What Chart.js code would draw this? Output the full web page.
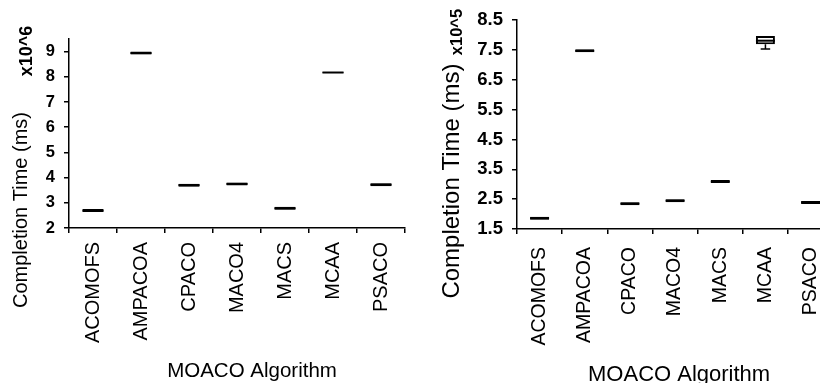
<!DOCTYPE html>
<html>
<head>
<meta charset="utf-8">
<script src="https://cdn.jsdelivr.net/npm/chart.js@4/dist/chart.umd.min.js"></script>
<style>
  html, body { margin: 0; padding: 0; background: #fff; overflow: hidden; width: 820px; height: 383px; }
  .panel { position: absolute; top: 0; height: 383px; }
  #panelA { left: 0; width: 414px; }
  #panelB { left: 410px; width: 437px; }
</style>
</head>
<body>
<div class="panel" id="panelA"><canvas id="chartA" width="414" height="383"></canvas></div>
<div class="panel" id="panelB"><canvas id="chartB" width="437" height="383"></canvas></div>
<script>
// MOACO algorithms compared
const algorithms = ['ACOMOFS', 'AMPACOA', 'CPACO', 'MACO4', 'MACS', 'MCAA', 'PSACO'];

// Larger instance: completion time in units of 10^6 ms (five-number summary)
const largeMin    = [2.63, 8.88, 3.64, 3.69, 2.72, 8.13, 3.66];
const largeQ1     = [2.63, 8.88, 3.64, 3.69, 2.72, 8.15, 3.66];
const largeMedian = [2.69, 8.94, 3.70, 3.75, 2.78, 8.17, 3.72];
const largeQ3     = [2.75, 9.00, 3.76, 3.81, 2.84, 8.19, 3.78];
const largeMax    = [2.75, 9.00, 3.76, 3.81, 2.84, 8.21, 3.78];
const largeTicks  = [2, 3, 4, 5, 6, 7, 8, 9];

// Smaller instance: completion time in units of 10^5 ms
const smallMin    = [1.81, 7.42, 2.30, 2.40, 3.04, 7.53, 2.34];
const smallQ1     = [1.81, 7.42, 2.30, 2.40, 3.04, 7.69, 2.34];
const smallMedian = [1.86, 7.47, 2.35, 2.45, 3.09, 7.81, 2.39];
const smallQ3     = [1.91, 7.52, 2.40, 2.50, 3.14, 7.965, 2.44];
const smallMax    = [1.91, 7.52, 2.40, 2.50, 3.14, 7.965, 2.44];
const smallTicks  = [1.5, 2.5, 3.5, 4.5, 5.5, 6.5, 7.5, 8.5];

const FONT = "'Liberation Sans', Arial, Helvetica, sans-serif";

// Whiskers, caps and median lines on top of the floating-bar boxes
const boxWhiskers = {
  id: 'boxWhiskers',
  afterDatasetsDraw(chart, args, opts) {
    const { ctx } = chart;
    const x = chart.scales.x, y = chart.scales.y;
    const meta = chart.getDatasetMeta(0);
    ctx.save();
    ctx.strokeStyle = '#000';
    meta.data.forEach((bar, i) => {
      const cx = x.getPixelForValue(i);
      const half = bar.width / 2;
      const pMin = y.getPixelForValue(opts.min[i]);
      const pMax = y.getPixelForValue(opts.max[i]);
      const pQ1 = y.getPixelForValue(opts.q1[i]);
      const pQ3 = y.getPixelForValue(opts.q3[i]);
      const pMed = y.getPixelForValue(opts.median[i]);
      ctx.lineWidth = 1.5;
      ctx.beginPath();
      if (pMin - pQ1 > 1) {
        ctx.moveTo(cx, pQ1); ctx.lineTo(cx, pMin);
        ctx.moveTo(cx - half * 0.5, pMin); ctx.lineTo(cx + half * 0.5, pMin);
      }
      if (pQ3 - pMax > 1) {
        ctx.moveTo(cx, pQ3); ctx.lineTo(cx, pMax);
        ctx.moveTo(cx - half * 0.5, pMax); ctx.lineTo(cx + half * 0.5, pMax);
      }
      ctx.stroke();
      ctx.lineWidth = 2;
      ctx.beginPath();
      ctx.moveTo(cx - half, pMed); ctx.lineTo(cx + half, pMed);
      ctx.stroke();
    });
    ctx.restore();
  }
};

// Axis titles and the exponent note beside the y axis
const axisText = {
  id: 'axisText',
  afterDraw(chart, args, opts) {
    const { ctx, chartArea } = chart;
    ctx.save();
    ctx.fillStyle = '#000';
    ctx.textAlign = 'center';
    ctx.textBaseline = 'alphabetic';
    ctx.font = opts.xTitleFont;
    ctx.fillText(opts.xTitle, (chartArea.left + chartArea.right) / 2 + opts.xTitleShift, opts.xTitleY);
    ctx.textBaseline = 'middle';
    ctx.translate(opts.yTitleX, opts.yTitleY);
    ctx.rotate(-Math.PI / 2);
    ctx.font = opts.yTitleFont;
    ctx.fillText(opts.yTitle, 0, 0);
    ctx.restore();
    ctx.save();
    ctx.fillStyle = '#000';
    ctx.textAlign = 'center';
    ctx.textBaseline = 'middle';
    ctx.translate(opts.expX, opts.expY);
    ctx.rotate(-Math.PI / 2);
    ctx.font = opts.expFont;
    ctx.fillText(opts.exp, 0, 0);
    ctx.restore();
  }
};

function buildPanel(canvasId, cfg) {
  const boxes = algorithms.map((_, i) => [cfg.q1[i], cfg.q3[i]]);
  return new Chart(document.getElementById(canvasId), {
    type: 'bar',
    data: {
      labels: algorithms,
      datasets: [{
        data: boxes,
        backgroundColor: '#fff',
        borderColor: '#000',
        borderWidth: 2,
        borderSkipped: false,
        barPercentage: cfg.barPct,
        categoryPercentage: 1
      }]
    },
    options: {
      responsive: false,
      animation: false,
      events: [],
      layout: { padding: { top: cfg.padTop, right: cfg.padRight, bottom: 0, left: 0 } },
      plugins: {
        legend: { display: false },
        tooltip: { enabled: false },
        boxWhiskers: { min: cfg.min, q1: cfg.q1, median: cfg.median, q3: cfg.q3, max: cfg.max },
        axisText: cfg.text
      },
      scales: {
        x: {
          type: 'category',
          offset: true,
          afterFit(s) { s.height = cfg.xAxisHeight; },
          grid: { offset: true, drawOnChartArea: false, drawTicks: true, tickLength: 5, color: '#000', lineWidth: 1.5 },
          border: { display: true, color: '#000', width: 1.5 },
          ticks: {
            autoSkip: false, minRotation: 90, maxRotation: 90, padding: cfg.xTickPad,
            color: '#000', font: { family: FONT, size: cfg.catSize }
          }
        },
        y: {
          type: 'linear',
          min: cfg.yMin, max: cfg.yMax,
          afterFit(s) { s.width = cfg.yAxisWidth; },
          afterBuildTicks(s) { s.ticks = cfg.ticks.map(v => ({ value: v })); },
          grid: { drawOnChartArea: false, drawTicks: true, tickLength: 5, color: '#000', lineWidth: 1.5 },
          border: { display: true, color: '#000', width: 1.5 },
          ticks: {
            padding: cfg.yTickPad, color: '#000',
            font: { family: FONT, size: cfg.tickSize, weight: 'bold' },
            callback: v => String(v)
          }
        }
      }
    },
    plugins: [boxWhiskers, axisText]
  });
}

buildPanel('chartA', {
  min: largeMin, q1: largeQ1, median: largeMedian, q3: largeQ3, max: largeMax,
  ticks: largeTicks, yMin: 2, yMax: 9.5,
  barPct: 0.44, padTop: 39, padRight: 0,
  xAxisHeight: 155, yAxisWidth: 69,
  xTickPad: 9, yTickPad: 9, catSize: 20, tickSize: 16.5,
  text: {
    xTitle: 'MOACO Algorithm', xTitleFont: `20.5px ${FONT}`, xTitleShift: 15, xTitleY: 377,
    yTitle: 'Completion Time (ms)', yTitleFont: `20px ${FONT}`, yTitleX: 21, yTitleY: 210,
    exp: 'x10^6', expFont: `bold 18px ${FONT}`, expX: 27, expY: 51
  }
});

buildPanel('chartB', {
  min: smallMin, q1: smallQ1, median: smallMedian, q3: smallQ3, max: smallMax,
  ticks: smallTicks, yMin: 1.5, yMax: 8.5,
  barPct: 0.42, padTop: 19, padRight: 0,
  xAxisHeight: 154, yAxisWidth: 107,
  xTickPad: 13, yTickPad: 9, catSize: 19.5, tickSize: 18.5,
  text: {
    xTitle: 'MOACO Algorithm', xTitleFont: `22px ${FONT}`, xTitleShift: 4, xTitleY: 381,
    yTitle: 'Completion Time (ms)', yTitleFont: `24px ${FONT}`, yTitleX: 42, yTitleY: 181,
    exp: 'x10^5', expFont: `bold 16.5px ${FONT}`, expX: 47, expY: 32
  }
});
</script>
</body>
</html>
